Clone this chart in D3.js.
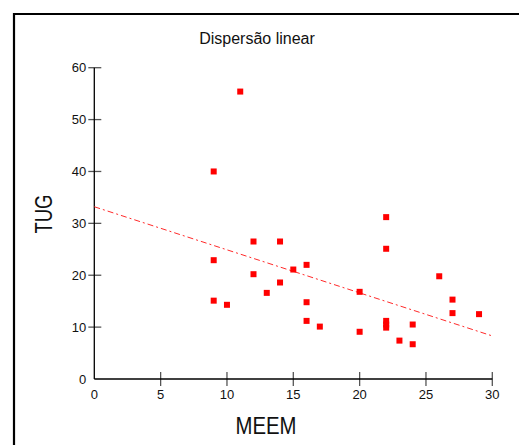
<!DOCTYPE html>
<html>
<head>
<meta charset="utf-8">
<script src="https://d3js.org/d3.v7.min.js"></script>
<title>Dispersão linear</title>
<style>
  body { margin: 0; background: #fff; }
  svg { display: block; }
  text { font-family: "Liberation Sans", Arial, sans-serif; fill: #111; }
</style>
</head>
<body>
<svg width="519" height="445"></svg>
<script>
// data
const meem = [9, 11, 12, 14, 9, 15, 16, 12, 14, 13, 9, 10, 16, 16, 17,
              22, 22, 26, 20, 27, 27, 29, 22, 22, 22, 24, 20, 23, 24];
const tug  = [40, 55.4, 26.5, 26.5, 22.9, 21.1, 22.0, 20.2, 18.6, 16.6, 15.1, 14.3, 14.8, 11.2, 10.1,
              31.2, 25.1, 19.8, 16.8, 15.3, 12.7, 12.5, 11.2, 10.5, 9.9, 10.5, 9.1, 7.4, 6.7];
const fitX = [0, 30];
const fitY = [33.2, 8.3];
const xTicks = [5, 10, 15, 20, 25, 30];
const yTicks = [10, 20, 30, 40, 50, 60];

const svg = d3.select('svg');

// outer frame (only top and left visible)
svg.append('path')
  .attr('d', 'M14,445 L14,14 L519,14')
  .attr('fill', 'none')
  .attr('stroke', '#000')
  .attr('stroke-width', 2.2);

const x = d3.scaleLinear().domain([0, 30]).range([94.3, 492.3]);
const y = d3.scaleLinear().domain([0, 60]).range([379, 67.7]);

// ticks
const g = svg.append('g');
g.selectAll('.xt').data(xTicks).join('line')
  .attr('x1', d => x(d)).attr('x2', d => x(d))
  .attr('y1', y(0) - 7).attr('y2', y(0) + 7)
  .attr('stroke', '#555').attr('stroke-width', 1.3);
g.selectAll('.yt').data(yTicks).join('line')
  .attr('y1', d => y(d)).attr('y2', d => y(d))
  .attr('x1', x(0) - 6).attr('x2', x(0) + 7)
  .attr('stroke', '#555').attr('stroke-width', 1.3);

// axis lines
g.append('line')
  .attr('x1', x(0)).attr('x2', x(30))
  .attr('y1', y(0)).attr('y2', y(0))
  .attr('stroke', '#000').attr('stroke-width', 1.3);
g.append('line')
  .attr('x1', x(0)).attr('x2', x(0))
  .attr('y1', y(0)).attr('y2', y(60))
  .attr('stroke', '#000').attr('stroke-width', 1.3);

// tick labels
g.selectAll('.xl').data([0].concat(xTicks)).join('text')
  .attr('x', d => x(d)).attr('y', y(0) + 20)
  .attr('text-anchor', 'middle')
  .style('font-size', '13px')
  .text(d => d);
g.selectAll('.yl').data([0].concat(yTicks)).join('text')
  .attr('x', x(0) - 8).attr('y', d => y(d) + 4.5)
  .attr('text-anchor', 'end')
  .style('font-size', '13px')
  .text(d => d);

// title and axis titles
svg.append('text')
  .attr('x', 257).attr('y', 44)
  .attr('text-anchor', 'middle')
  .style('font-size', '16px')
  .text('Dispersão linear');
svg.append('text')
  .attr('x', 266).attr('y', 434)
  .attr('text-anchor', 'middle')
  .attr('textLength', 61).attr('lengthAdjust', 'spacingAndGlyphs')
  .style('font-size', '23px')
  .text('MEEM');
svg.append('text')
  .attr('transform', 'translate(51.5,214) rotate(-90)')
  .attr('text-anchor', 'middle')
  .attr('textLength', 39).attr('lengthAdjust', 'spacingAndGlyphs')
  .style('font-size', '23px')
  .text('TUG');

// fitted line
const fit = fitX.map((v, i) => [v, fitY[i]]);
svg.append('path')
  .datum(fit)
  .attr('d', d3.line().x(d => x(d[0])).y(d => y(d[1])))
  .attr('fill', 'none')
  .attr('stroke', '#ff2a2a')
  .attr('stroke-width', 1)
  .attr('stroke-dasharray', '6,3,2,3');

// points
const pts = meem.map((v, i) => ({ m: v, t: tug[i] }));
svg.selectAll('.pt').data(pts).join('rect')
  .attr('x', d => x(d.m) - 3)
  .attr('y', d => y(d.t) - 3)
  .attr('width', 6).attr('height', 6)
  .attr('fill', '#ff0000');
</script>
</body>
</html>
